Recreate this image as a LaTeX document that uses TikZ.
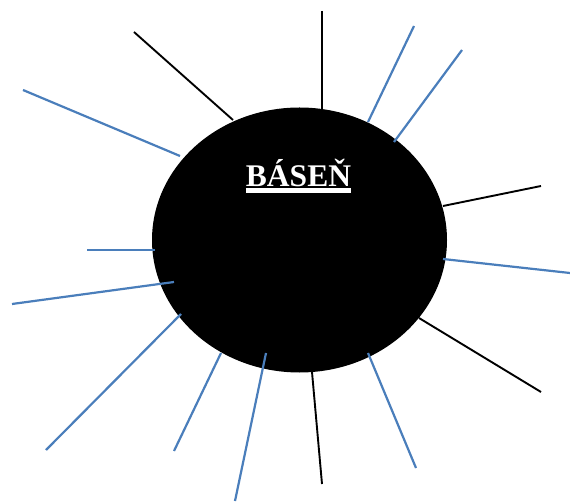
\documentclass[tikz,border=0pt]{standalone}
\usepackage{fontspec}
\setmainfont{Liberation Serif}
\usepackage{xcolor}
\usetikzlibrary{positioning,calc,shapes.geometric}

\definecolor{rayblue}{HTML}{4A7EBB}

\begin{document}
\begin{tikzpicture}[
    x=1pt,y=-1pt,
    sun/.style={ellipse,draw=none,fill=black,minimum width=295,minimum height=265,inner sep=0pt},
    title/.style={font=\fontsize{31.5}{31.5}\selectfont\bfseries,text=white,anchor=base,inner sep=0pt},
    darkray/.style={draw=black,line width=1.9},
    blueray/.style={draw=rayblue,line width=2.2}
  ]
    \useasboundingbox (0,0) rectangle (570,502);

    \node[sun] (basen) at (299.5,240) {};
    \node[title] (nazev) at (298.5,187) {BÁSEŇ};
    \draw[line width=4.4,white] ($(nazev.base west)+(0,3.6)$) coordinate (ulA)
      -- ($(nazev.base east)+(0,3.6)$) coordinate (ulB);

    % outer ends of the rays
    \coordinate (o1) at (134,32);
    \coordinate (o2) at (23,90);
    \coordinate (o3) at (322,11);
    \coordinate (o4) at (414,26);
    \coordinate (o5) at (462,50);
    \coordinate (o6) at (541,186);
    \coordinate (o7) at (570,273);
    \coordinate (o8) at (541,392);
    \coordinate (o9) at (416,468);
    \coordinate (o10) at (322,484);
    \coordinate (o11) at (235,501);
    \coordinate (o12) at (174,451);
    \coordinate (o13) at (46,450);
    \coordinate (o14) at (12,304);
    \coordinate (o15) at (87,250);

    % inner ends, on the rim
    \coordinate (i1) at (233,120);
    \coordinate (i2) at (180,156);
    \coordinate (i3) at (322,109);
    \coordinate (i4) at (368,122);
    \coordinate (i5) at (394,142);
    \coordinate (i6) at (443,206);
    \coordinate (i7) at (443,259);
    \coordinate (i8) at (419,318);
    \coordinate (i9) at (368,353);
    \coordinate (i10) at (312,372);
    \coordinate (i11) at (266,353);
    \coordinate (i12) at (221,353);
    \coordinate (i13) at (181,314);
    \coordinate (i14) at (174,282);
    \coordinate (i15) at (155,250);

    \draw[darkray] (o1) -- (i1);
    \draw[blueray] (o2) -- (i2);
    \draw[darkray] (o3) -- (i3);
    \draw[blueray] (o4) -- (i4);
    \draw[blueray] (o5) -- (i5);
    \draw[darkray] (o6) -- (i6);
    \draw[blueray] (o7) -- (i7);
    \draw[darkray] (o8) -- (i8);
    \draw[blueray] (o9) -- (i9);
    \draw[darkray] (o10) -- (i10);
    \draw[blueray] (o11) -- (i11);
    \draw[blueray] (o12) -- (i12);
    \draw[blueray] (o13) -- (i13);
    \draw[blueray] (o14) -- (i14);
    \draw[blueray] (o15) -- (i15);
\end{tikzpicture}
\end{document}
